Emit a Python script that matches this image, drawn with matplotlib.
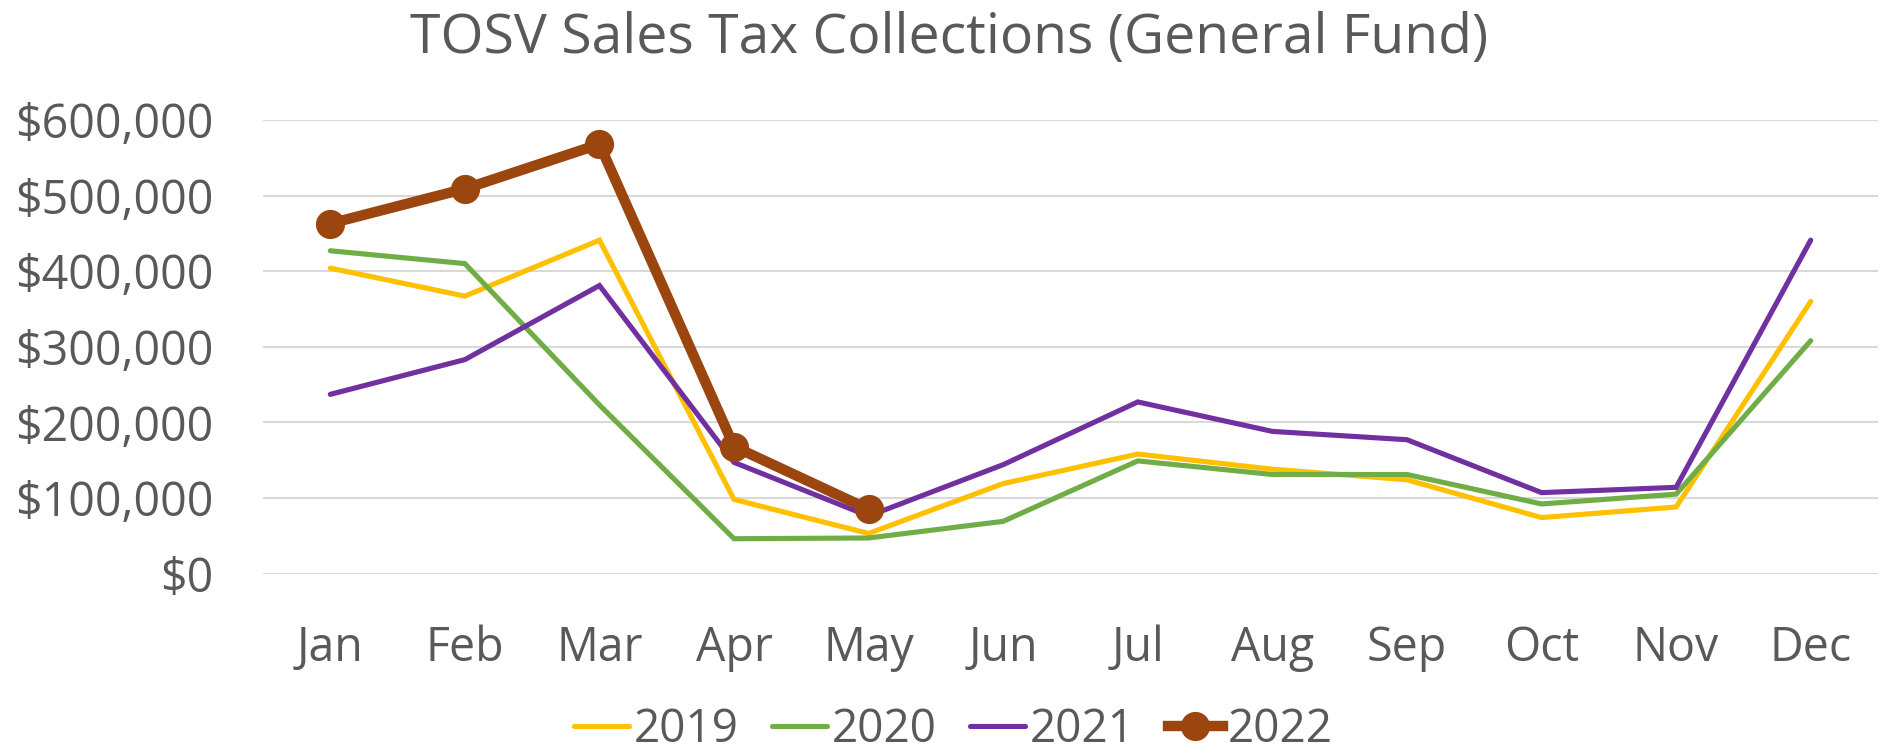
import matplotlib
matplotlib.use("Agg")
import matplotlib.pyplot as plt
from matplotlib.ticker import FuncFormatter, MultipleLocator

months = ["Jan", "Feb", "Mar", "Apr", "May", "Jun", "Jul", "Aug", "Sep", "Oct", "Nov", "Dec"]
sales_2019 = [404000, 367000, 441000, 98000, 53000, 119000, 158000, 138000, 124000, 74000, 88000, 360000]
sales_2020 = [427000, 410000, 223000, 46000, 47000, 69000, 149000, 131000, 131000, 92000, 105000, 308000]
sales_2021 = [237000, 283000, 381000, 147000, 76000, 144000, 227000, 188000, 177000, 107000, 114000, 441000]
sales_2022 = [463000, 509000, 568000, 168000, 85000]

plt.rcParams['font.family'] = ['Open Sans', 'DejaVu Sans']
TEXT = "#595959"

fig = plt.figure(figsize=(18.8, 7.5), dpi=100)
ax = fig.add_axes([263/1880, (750-573.5)/750, (1878-263)/1880, (573.5-120)/750])

x = list(range(len(months)))
ax.plot(x, sales_2019, color="#FFC000", lw=3.7, label="2019", solid_capstyle="round", solid_joinstyle="miter", zorder=3)
ax.plot(x, sales_2020, color="#70AD47", lw=3.7, label="2020", solid_capstyle="round", solid_joinstyle="miter", zorder=3)
ax.plot(x, sales_2021, color="#7030A0", lw=3.7, label="2021", solid_capstyle="round", solid_joinstyle="miter", zorder=3)
ax.plot(x[:len(sales_2022)], sales_2022, color="#9C460F", lw=7.5, marker="o", markersize=20,
        label="2022", solid_joinstyle="miter", zorder=4)

ax.set_xlim(-0.5, len(months) - 0.5)
ax.set_ylim(0, 600000)
ax.yaxis.set_major_locator(MultipleLocator(100000))
ax.yaxis.set_major_formatter(FuncFormatter(lambda v, p: f"${v:,.0f}"))
ax.set_xticks(x)
ax.set_xticklabels(months)
ax.grid(axis="y", color="#D9D9D9", lw=1.5, zorder=0)
ax.set_axisbelow(True)
for s in ax.spines.values():
    s.set_visible(False)
ax.tick_params(axis="both", length=0, labelsize=33.5, labelcolor=TEXT)
ax.tick_params(axis="y", pad=36)
ax.tick_params(axis="x", pad=37)

fig.text(0.505, 1 - 53/750, "TOSV Sales Tax Collections (General Fund)", ha="center", va="baseline",
         fontsize=39.8, color=TEXT)

leg = fig.legend(loc="center", bbox_to_anchor=(0.507, 0.027), ncol=4, frameon=False,
                 fontsize=33, labelcolor=TEXT, handlelength=1.2, handletextpad=0.1,
                 columnspacing=0.73, borderaxespad=0)

fig.savefig("out.png", dpi=100)
